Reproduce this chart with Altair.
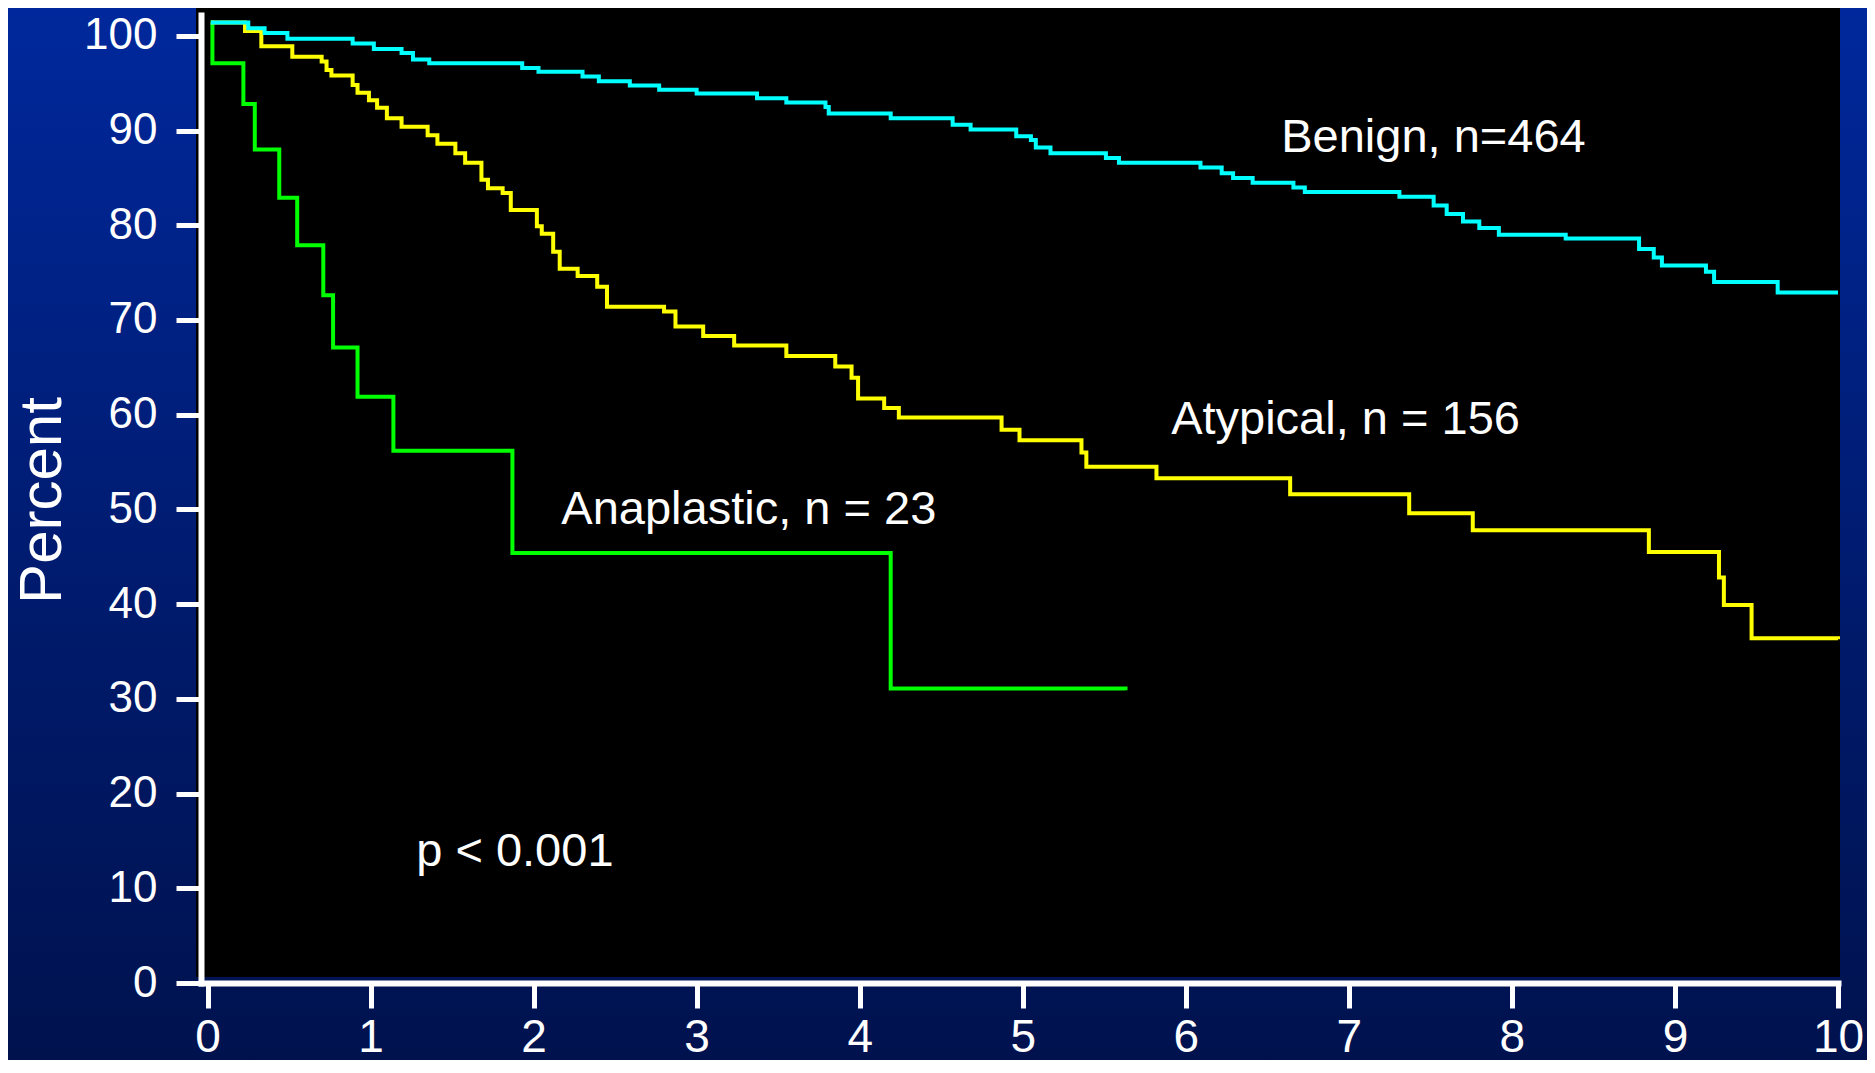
import altair as alt
import pandas as pd

# ---------------- data ----------------
benign_t = [0.02, 0.25, 0.35, 0.49, 0.89, 1.02, 1.19, 1.26, 1.36, 1.93, 2.03, 2.30, 2.40,
            2.59, 2.77, 3.00, 3.37, 3.55, 3.79, 3.81, 4.19, 4.57, 4.68, 4.96, 5.05, 5.08,
            5.17, 5.51, 5.59, 6.09, 6.22, 6.29, 6.41, 6.66, 6.73, 7.31, 7.52, 7.60, 7.70,
            7.80, 7.92, 8.33, 8.78, 8.87, 8.92, 9.19, 9.24, 9.63, 10.0]
benign_s = [101.4, 100.8, 100.3, 99.7, 99.2, 98.6, 98.2, 97.5, 97.1, 96.6, 96.2, 95.7, 95.2,
            94.75, 94.3, 93.9, 93.4, 92.95, 92.5, 91.8, 91.3, 90.6, 90.1, 89.4, 89.0, 88.2,
            87.6, 87.1, 86.6, 86.1, 85.5, 85.0, 84.5, 84.0, 83.5, 83.0, 82.1, 81.2, 80.4,
            79.7, 79.0, 78.6, 77.5, 76.6, 75.75, 75.1, 74.0, 72.9, 72.9]

atyp_t = [0.02, 0.23, 0.33, 0.52, 0.70, 0.73, 0.76, 0.89, 0.92, 0.99, 1.04, 1.10, 1.19, 1.35,
          1.41, 1.52, 1.58, 1.68, 1.72, 1.81, 1.86, 2.02, 2.05, 2.12, 2.16, 2.27, 2.39, 2.45,
          2.80, 2.87, 3.04, 3.23, 3.55, 3.85, 3.95, 3.99, 4.15, 4.24, 4.87, 4.98, 5.36, 5.39,
          5.82, 6.64, 7.37, 7.76, 8.84, 9.27, 9.30, 9.47, 10.0]
atyp_s = [101.4, 100.5, 98.9, 97.8, 97.3, 96.4, 95.8, 94.8, 94.0, 93.2, 92.4, 91.3, 90.4, 89.5,
          88.6, 87.6, 86.6, 84.8, 83.9, 83.4, 81.6, 79.9, 79.1, 77.2, 75.4, 74.65, 73.5, 71.4,
          70.9, 69.3, 68.3, 67.3, 66.2, 65.1, 63.9, 61.7, 60.7, 59.7, 58.4, 57.3, 56.0, 54.5,
          53.3, 51.6, 49.6, 47.8, 45.5, 42.8, 39.9, 36.4, 36.3]

anap_t = [0.02, 0.03, 0.22, 0.29, 0.44, 0.55, 0.71, 0.77, 0.92, 1.14, 1.87, 4.19, 5.63]
anap_s = [101.4, 97.1, 92.8, 88.0, 82.9, 77.9, 72.6, 67.1, 61.9, 56.2, 45.4, 31.1, 30.9]

group_names = ["Anaplastic", "Atypical", "Benign"]
group_colors = ["#00ff00", "#ffff00", "#00ffff"]

ann_text = ["Benign, n=464", "Atypical, n = 156", "Anaplastic, n = 23", "p < 0.001"]
ann_x = [6.585, 5.91, 2.17, 1.28]
ann_y = [87.7, 58.0, 48.5, 12.4]

x_ticks = list(range(0, 11))
y_ticks = list(range(0, 101, 10))

# ---------------- tables ----------------
rows = []
for name, ts, ss in [("Anaplastic", anap_t, anap_s),
                     ("Atypical", atyp_t, atyp_s),
                     ("Benign", benign_t, benign_s)]:
    for t, s in zip(ts, ss):
        rows.append({"group": name, "t": t, "s": s})
curves = pd.DataFrame(rows)
ann = pd.DataFrame({"label": ann_text, "ax": ann_x, "ay": ann_y})
one = pd.DataFrame({"k": [0]})

# ---------------- layout ----------------
W, H = 1637, 968
PAD_L, PAD_T, PAD_R, PAD_B = 193, 7, 29, 77
FONT = "Liberation Sans"

xscale = alt.Scale(domain=[-0.04, 10], nice=False, zero=False)
yscale = alt.Scale(domain=[0, 102.2], nice=False, zero=False)

x_axis = alt.Axis(values=x_ticks, title=None, labelFontSize=46, labelPadding=43,
                  labelBaseline="alphabetic",
                  tickSize=25, labelFlush=False, format="d", grid=False,
                  labelOverlap=False, zindex=2)
y_axis = alt.Axis(values=y_ticks, title="Percent", labelFontSize=44, labelPadding=19,
                  tickSize=25, grid=False, format="d", labelOverlap=False,
                  titleFontSize=60, titleAngle=270, titleX=-141, titleY=485,
                  titleBaseline="alphabetic", titleAlign="center", zindex=2)

bg = alt.Chart(one).mark_rect(
    fill=alt.LinearGradient(
        gradient="linear",
        stops=[alt.GradientStop(color="#00289c", offset=0),
               alt.GradientStop(color="#001b6e", offset=0.55),
               alt.GradientStop(color="#00124e", offset=1)],
        x1=0, x2=0, y1=0, y2=1),
    strokeWidth=0,
).encode(x=alt.value(-PAD_L), x2=alt.value(W + PAD_R),
         y=alt.value(-PAD_T), y2=alt.value(H + PAD_B))

panel = alt.Chart(one).mark_rect(color="black", strokeWidth=0).encode(
    x=alt.value(-5), x2=alt.value(W + 2), y=alt.value(-8), y2=alt.value(H - 6))

lines = alt.Chart(curves).mark_line(
    interpolate="step-after", strokeWidth=4, strokeJoin="miter"
).encode(
    x=alt.X("t:Q", scale=xscale, axis=x_axis),
    y=alt.Y("s:Q", scale=yscale, axis=y_axis),
    color=alt.Color("group:N", scale=alt.Scale(domain=group_names, range=group_colors),
                    legend=None),
)

labels = alt.Chart(ann).mark_text(
    align="left", baseline="alphabetic", fontSize=47, font=FONT, color="white"
).encode(
    x=alt.X("ax:Q", scale=xscale, axis=x_axis),
    y=alt.Y("ay:Q", scale=yscale, axis=y_axis),
    text="label:N",
)

chart = alt.layer(bg, panel, lines, labels).properties(
    width=W, height=H,
    autosize=alt.AutoSizeParams(type="none"),
    padding={"left": PAD_L, "top": PAD_T, "right": PAD_R, "bottom": PAD_B},
).configure(
    background="#001b6e"
).configure_view(
    stroke=None
).configure_axis(
    domainColor="white", domainWidth=6, domainCap="square",
    tickColor="white", tickWidth=5,
    labelColor="white", labelFont=FONT,
    titleColor="white", titleFont=FONT, titleFontWeight="normal",
)

chart.save("out.html", embed_options={"renderer": "svg", "actions": False})
